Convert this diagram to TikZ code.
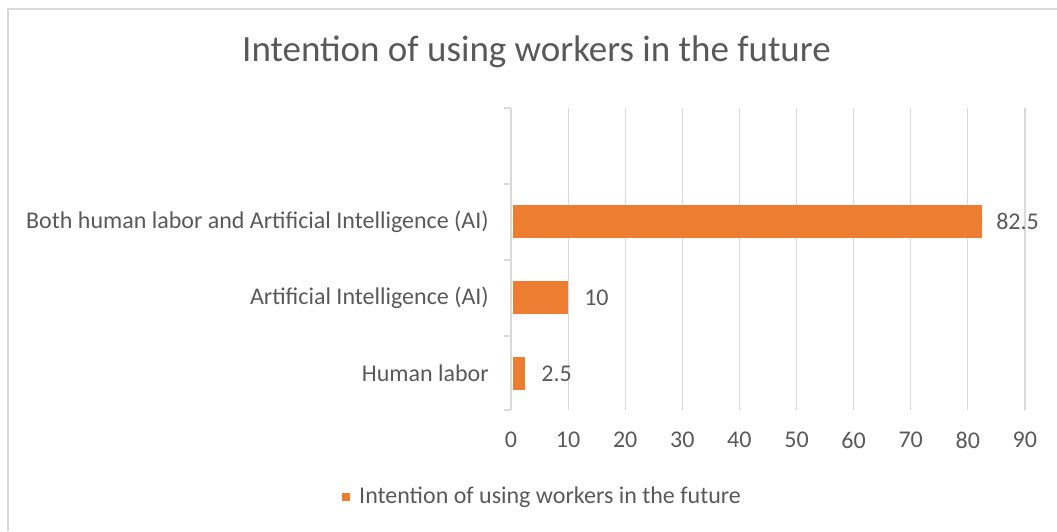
\documentclass[tikz,border=0pt]{standalone}
\usepackage{fontspec}
\setmainfont{Carlito}
\definecolor{orangebarre}{HTML}{ED7D31}
\definecolor{gristexte}{HTML}{595959}
\definecolor{grisgrille}{HTML}{D9D9D9}

\tikzset{barre/.style={fill=orangebarre,draw=none},
grille/.style={draw=grisgrille,line width=1.2pt},
etiquette/.style={text=gristexte,inner sep=0pt,font=\fontsize{24}{28}\selectfont},
titre/.style={text=gristexte,inner sep=0pt,font=\fontsize{37}{42}\selectfont}}

\begin{document}
\begin{tikzpicture}[x=1pt,y=-1pt]
\useasboundingbox (0,0) rectangle (1057,531);
% cadre du graphique
\draw[grille] (8,531) -- (8,9) -- (1057,9);
\node [titre] (titre) at (536.5,52) {Intention of using workers in the future};
% grille et axes
\foreach \i in {1,...,9}
	\draw[grille] (511+57.1*\i,108) -- (511+57.1*\i,410);
\draw[grille] (511,108) -- (511,410);
\foreach \y in {108,184,260,336,410}
	\draw[grille] (504,\y) -- (511,\y);
\foreach \i in {0,...,9}
	\node [etiquette] (x\i) at (511+57.1*\i,440) {\pgfmathparse{int(10*\i)}\pgfmathresult};
% barres
\fill[barre] (513,205) rectangle (511+5.71*82.5,238);
\fill[barre] (513,281) rectangle (511+5.71*10,314);
\fill[barre] (513,357) rectangle (511+5.71*2.5,390);
\node [etiquette,anchor=west] (v1) at (511+5.71*82.5+14,221.5) {82.5};
\node [etiquette,anchor=west] (v2) at (511+5.71*10+16,297.5) {10};
\node [etiquette,anchor=west] (v3) at (511+5.71*2.5+16,373.5) {2.5};
\node [etiquette,anchor=east] (c1) at (489,221.5) {Both human labor and Artificial Intelligence (AI)};
\node [etiquette,anchor=east] (c2) at (489,297.5) {Artificial Intelligence (AI)};
\node [etiquette,anchor=east] (c3) at (489,373.5) {Human labor};
% legende
\fill[barre] (342,493) rectangle (350,501);
\node [etiquette,anchor=west] (legende) at (359,497) {Intention of using workers in the future};
\end{tikzpicture}
\end{document}
